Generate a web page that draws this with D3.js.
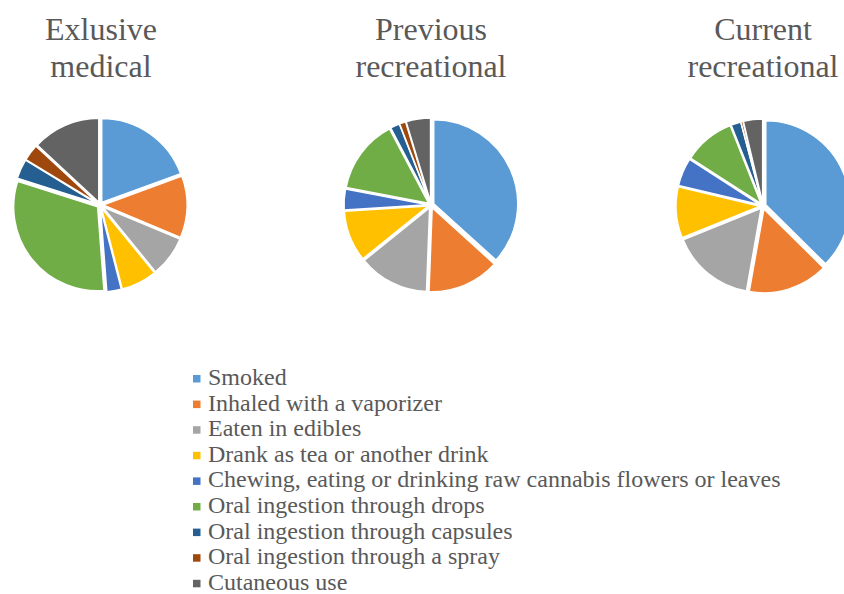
<!DOCTYPE html>
<html><head><meta charset="utf-8">
<script src="https://cdn.jsdelivr.net/npm/d3@7"></script>
</head><body style="margin:0"><svg width="844" height="594" style="display:block"></svg>
<script>
const categories = ["Smoked","Inhaled with a vaporizer","Eaten in edibles","Drank as tea or another drink","Chewing, eating or drinking raw cannabis flowers or leaves","Oral ingestion through drops","Oral ingestion through capsules","Oral ingestion through a spray","Cutaneous use"];
const colors = ["#5B9BD5","#ED7D31","#A5A5A5","#FFC000","#4472C4","#70AD47","#255E91","#9E480E","#636363"];
const titles = [["Exlusive","medical"],["Previous","recreational"],["Current","recreational"]];
const exclusiveMedical = [19.4,11.9,7.8,6.9,2.8,31.1,3.8,3.2,13.1];
const previousRecreational = [36.7,13.9,13.6,9.8,4.0,14.3,1.8,1.2,4.7];
const currentRecreational = [37.4,15.4,16.1,9.8,5.4,9.9,1.9,0.4,3.7];
const series = [exclusiveMedical, previousRecreational, currentRecreational];

const svg = d3.select("svg");
const FONT = "Liberation Serif, Times New Roman, serif";
const centers = [[100,205],[431,205],[763,206]];
const titleX = [101,431,763];
const R = 84, explode = 3;
const pie = d3.pie().sort(null).value(d=>d);
const arc = d3.arc().innerRadius(0).outerRadius(R);

series.forEach((vals,i)=>{
  const g = svg.append("g").attr("transform",`translate(${centers[i][0]},${centers[i][1]})`);
  g.selectAll("path").data(pie(vals)).join("path")
    .attr("d",arc)
    .attr("fill",(d,j)=>colors[j])
    .attr("stroke","#fff").attr("stroke-width",1.5)
    .attr("transform",d=>{const a=(d.startAngle+d.endAngle)/2;return `translate(${explode*Math.sin(a)},${-explode*Math.cos(a)})`;});
  const t = svg.append("text").attr("x",titleX[i]).attr("y",40)
    .attr("text-anchor","middle").attr("font-family",FONT).attr("font-size",32).attr("fill","#595959");
  titles[i].forEach((line,k)=>t.append("tspan").attr("x",titleX[i]).attr("dy",k?37:0).text(line));
});

const leg = svg.append("g");
categories.forEach((c,i)=>{
  const y = 385 + i*25.6;
  leg.append("rect").attr("x",193).attr("y",y-10).attr("width",7.5).attr("height",7.5).attr("fill",colors[i]);
  leg.append("text").attr("x",208).attr("y",y).attr("font-family",FONT).attr("font-size",24).attr("fill","#595959").text(c);
});
</script></body></html>
